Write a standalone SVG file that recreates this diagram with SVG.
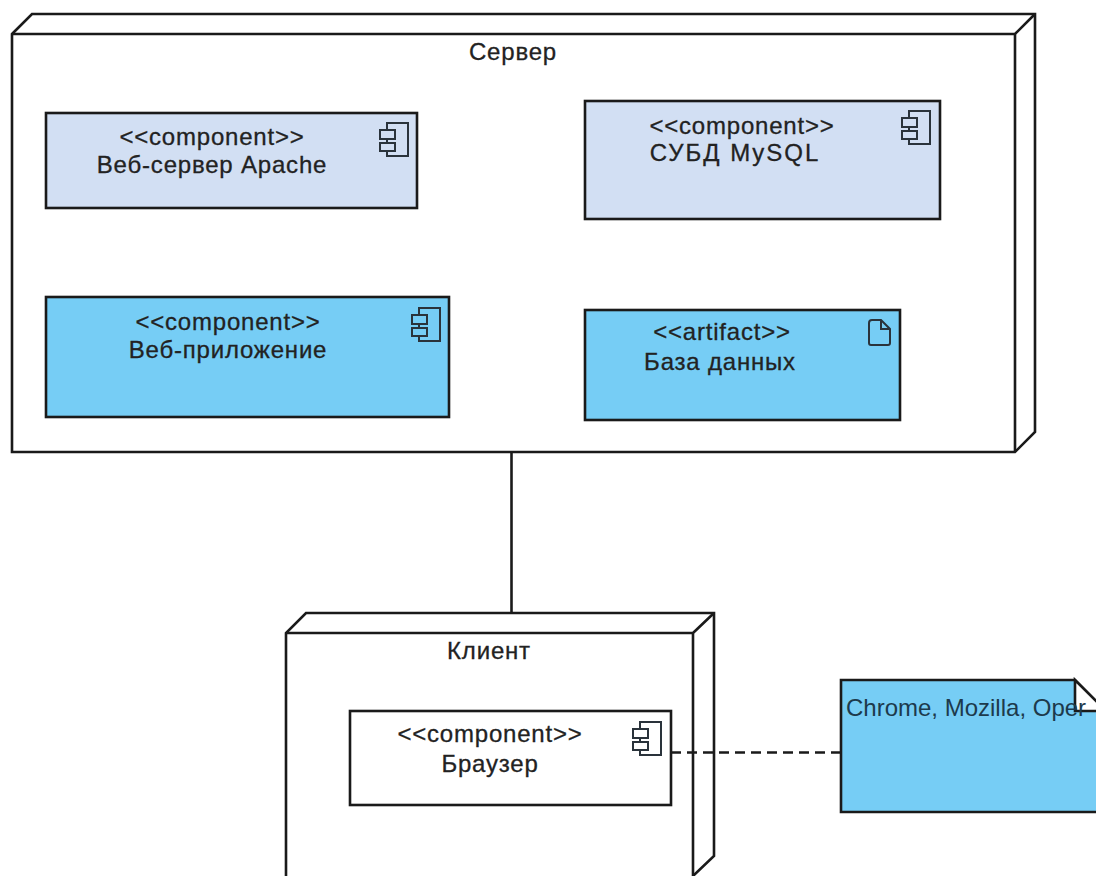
<svg xmlns="http://www.w3.org/2000/svg" width="1096" height="876" viewBox="0 0 1096 876">
<style>
.s{stroke:#1a1a1a;stroke-width:2.6;fill:none;stroke-linejoin:miter}
.b{stroke:#1a1a1a;stroke-width:2.6}
.w{fill:#fff}
.l{fill:#d2dff3}
.c{fill:#76cdf5}
.i{stroke:#2a333b;stroke-width:2;fill:none}
text{font-family:"Liberation Sans",Arial,sans-serif;font-size:24px;letter-spacing:.8px;fill:#222;stroke:#222;stroke-width:.3px;text-anchor:middle}
.m{letter-spacing:0;stroke:none;fill:#1d3a4c;text-anchor:start}
</style>
<defs>
<path id="ci" class="i" d="M7 7V0H28V33H7V28M7 16V20M0 7H15V16H0ZM0 20H15V28H0Z"/>
</defs>
<rect width="1096" height="876" fill="#fff"/>
<g id="server">
<path class="s w" d="M12 34L32 14H1035V432L1015 452H12Z"/>
<path class="s" d="M12 34H1015V452M1015 34L1035 14"/>
<text x="513" y="60">Сервер</text>
</g>
<g id="apache">
<rect class="b l" x="46" y="113" width="371" height="95"/>
<use href="#ci" x="380" y="123"/>
<text x="212" y="145">&lt;&lt;component&gt;&gt;</text>
<text x="212" y="173">Веб-сервер Apache</text>
</g>
<g id="mysql">
<rect class="b l" x="585" y="101" width="355" height="118"/>
<use href="#ci" x="902" y="111"/>
<text x="742" y="134">&lt;&lt;component&gt;&gt;</text>
<text x="735" y="161" style="letter-spacing:2px">СУБД MySQL</text>
</g>
<g id="webapp">
<rect class="b c" x="46" y="297" width="403" height="120"/>
<use href="#ci" x="412" y="308"/>
<text x="228" y="330">&lt;&lt;component&gt;&gt;</text>
<text x="228" y="358">Веб-приложение</text>
</g>
<g id="database">
<rect class="b c" x="585" y="310" width="315" height="110"/>
<path class="i" d="M872 320H881L890 329V343Q890 345 888 345H871Q869 345 869 343V323Q869 320 872 320ZM881 320V329H890"/>
<text x="722" y="340">&lt;&lt;artifact&gt;&gt;</text>
<text x="720" y="370">База данных</text>
</g>
<g id="client">
<path class="s w" d="M286 876V633L306 613H714V856L693 876"/>
<path class="s" d="M286 633H693V876M693 633L714 613"/>
<text x="489" y="659">Клиент</text>
</g>
<g id="browser">
<rect class="b w" x="350" y="711" width="321" height="94"/>
<use href="#ci" x="633" y="722"/>
<text x="490" y="742">&lt;&lt;component&gt;&gt;</text>
<text x="490" y="772">Браузер</text>
</g>
<g id="note">
<path class="b c" d="M841 680H1075L1106 711V812H841Z"/>
<path class="s w" d="M1075 680L1106 711H1075Z"/>
<text class="m" x="846" y="716">Chrome, Mozilla, Oper</text>
</g>
<g id="connectors">
<path class="s" d="M511.500 452V613"/>
<path class="s" d="M671 752.500H841" stroke-dasharray="10 6" stroke-width="2"/>
</g>
</svg>
